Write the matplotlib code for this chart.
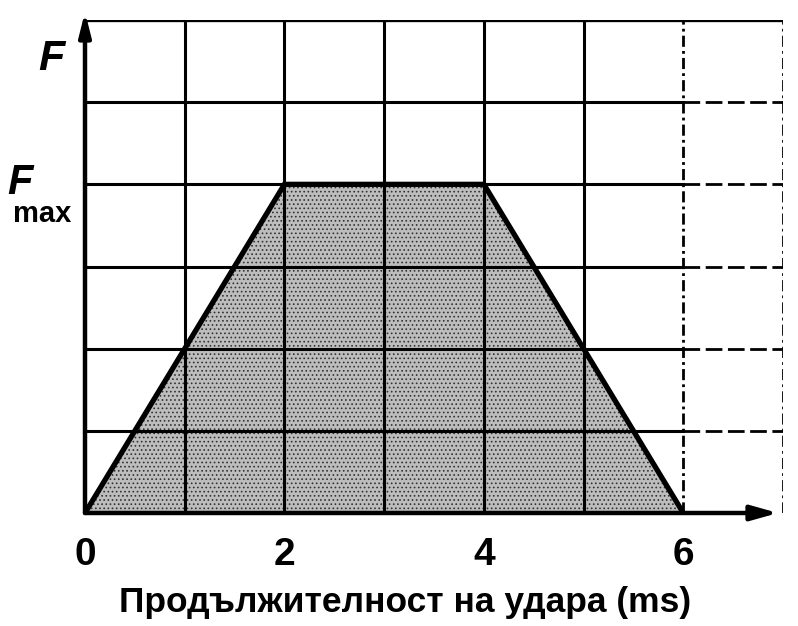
import matplotlib
matplotlib.use("Agg")
from matplotlib import pyplot as plt

# trapezoidal force pulse (force in grid units, Fmax = 4)
t = [0, 2, 4, 6]
force = [0, 4, 4, 0]
xticks = [0, 2, 4, 6]
xlabel = "Продължителност на удара (ms)"

plt.rcParams['font.family'] = ['Liberation Sans', 'DejaVu Sans']
plt.rcParams['hatch.color'] = '#222222'
plt.rcParams['hatch.linewidth'] = 0.7

fig = plt.figure(figsize=(7.98, 6.26), dpi=100)
ax = fig.add_axes([85 / 798, 113 / 626, 698 / 798, 493 / 626])
ax.set_xlim(0, 7)
ax.set_ylim(0, 6)

# grid
for x in range(1, 6):
    ax.plot([x, x], [0, 6], color='black', lw=2.2, zorder=3)
for x in (6, 7):
    ax.plot([x, x], [0, 6], color='black', lw=2.0, ls=(0, (4, 1.5, 1, 1.5)), zorder=3)
for y in range(1, 6):
    ax.plot([0, 6], [y, y], color='black', lw=2.2, zorder=3)
    ax.plot([6, 7], [y, y], color='black', lw=2.0, ls=(0, (6, 2)), zorder=3)
ax.plot([0, 7], [6, 6], color='black', lw=2.4, zorder=3)

# pulse
ax.fill(t, force, facecolor='#bdbdbd', edgecolor='#333333', hatch='....', lw=0, zorder=2)
ax.plot(t, force, color='black', lw=3.8, solid_joinstyle='miter', zorder=4)

# axes with arrows
for s in ax.spines.values():
    s.set_visible(False)
ax.annotate('', xy=(6.95, 0), xytext=(0, 0), annotation_clip=False,
            arrowprops=dict(arrowstyle='-|>,head_length=1.6,head_width=0.45', lw=3.2, color='black',
                            shrinkA=0, shrinkB=0), zorder=5)
ax.annotate('', xy=(0, 6.1), xytext=(0, 0), annotation_clip=False,
            arrowprops=dict(arrowstyle='-|>,head_length=1.4,head_width=0.35', lw=3.2, color='black',
                            shrinkA=0, shrinkB=0), zorder=5)

ax.set_xticks(xticks)
ax.set_xticklabels([str(v) for v in xticks], fontsize=28, fontweight='bold')
ax.set_yticks([])
ax.tick_params(axis='x', length=0, pad=17)

ax.text(-0.34, 5.52, 'F', fontsize=31, style='italic', fontweight='bold', ha='center', va='center')
ax.text(-0.65, 4.02, 'F', fontsize=30, style='italic', fontweight='bold', ha='center', va='center')
ax.text(-0.43, 3.64, 'max', fontsize=21, fontweight='bold', ha='center', va='center')
ax.text(3.21, -1.09, xlabel, fontsize=25.5, fontweight='bold', ha='center', va='center')

fig.savefig('out.png', dpi=100)
